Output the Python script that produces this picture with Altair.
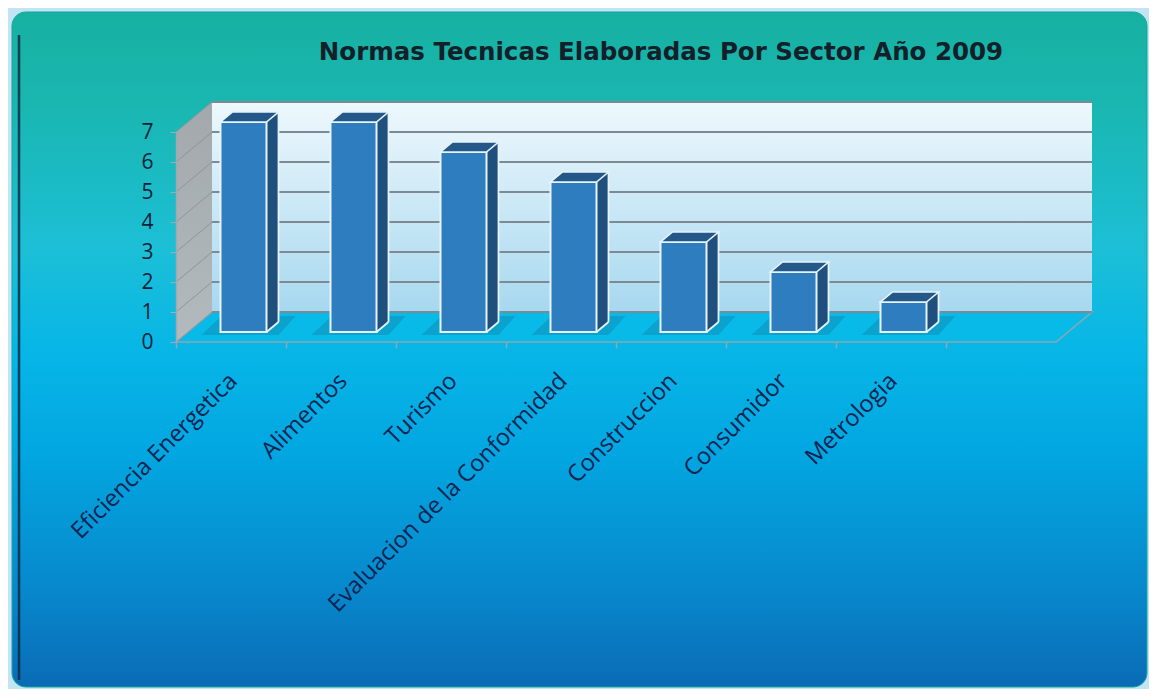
import altair as alt
import pandas as pd

# ---------------- data ----------------
categories = ["Eficiencia Energetica", "Alimentos", "Turismo",
              "Evaluacion de la Conformidad", "Construccion", "Consumidor", "Metrologia"]
values = [7, 7, 6, 5, 3, 2, 1]
y_ticks = [0, 1, 2, 3, 4, 5, 6, 7]
title_text = "Normas Tecnicas Elaboradas Por Sector Año 2009"

# ---------------- layout (pixels) ----------------
W, H = 880, 210
NSLOT = len(categories) + 1
BAND = W / NSLOT
DX, DY = 36, 30            # depth of walls
BAR_W = 46
BAR_DX = 12.5              # bar front face shift from band centre
LIFT = 10                  # bar front base above front floor edge
SX, SY = 12, 10            # bar depth

bars = pd.DataFrame({"sector": categories, "value": values})
ticks = pd.DataFrame({"t": y_ticks})
wall_df = pd.DataFrame({"lo": [y_ticks[0]], "hi": [y_ticks[-1]]})
zero_df = pd.DataFrame({"t": [y_ticks[0]]})
one = alt.Data(values=[{"k": 0}])

x_domain = categories + [" "]
xscale = alt.Scale(domain=x_domain, paddingInner=0, paddingOuter=0)
yscale = alt.Scale(domain=[y_ticks[0], y_ticks[-1]], nice=False, zero=True)

FONT = "Open Sans"

AX_X = alt.Axis(
    title=None, labelAngle=-45, labelAlign="right", labelBaseline="middle",
    labelFont=FONT, labelFontSize=23.5, labelColor="#0d2350", labelPadding=29,
    labelOffset=BAND / 2 + 2, tickOffset=-BAND / 2, tickSize=6, tickColor="#8ea7b3",
    tickWidth=1.5, domain=False, zindex=1, labelOverlap=False, labelLimit=500)
AX_Y = alt.Axis(
    title=None, values=y_ticks, grid=False, labelFont=FONT, labelFontSize=21,
    labelColor="#0b1f3a", labelPadding=17, tickSize=6, tickColor="#a3aaae",
    domainColor="#a3aaae", domainWidth=1.5, zindex=1, labelOverlap=False)


def grad(stops, horizontal=False):
    return alt.LinearGradient(
        gradient="linear", x1=0, y1=0,
        x2=1 if horizontal else 0, y2=0 if horizontal else 1,
        stops=[alt.GradientStop(color=c, offset=o) for o, c in stops])


panel_grad = grad([(0, "#17b1a1"), (0.15, "#1ab7b3"), (0.35, "#1cbfd6"),
                   (0.5, "#07b6e7"), (0.65, "#02a7e1"), (0.85, "#0789cd"), (1, "#0a6bb5")])
wall_grad = grad([(0, "#eef8fd"), (1, "#a7d8ef")])
side_grad = grad([(0, "#a2a8ac"), (1, "#b3babe")])

# ---------------- decoration ----------------
panel = alt.Chart(one).mark_rect(fill=panel_grad, cornerRadius=14, stroke="#14a79a",
                                 strokeWidth=1).encode(
    x=alt.value(-164), x2=alt.value(971), y=alt.value(-120), y2=alt.value(555))

panel_edge = alt.Chart(one).mark_rule(color="#0c2c44", strokeWidth=2.5, opacity=0.85).encode(
    x=alt.value(-157), y=alt.value(-97), y2=alt.value(548))

Yz = alt.Y("t:Q", scale=yscale, axis=AX_Y)

floor_path = f"M0,0L{W},0L{W + DX},{-DY}L{DX},{-DY}Z"
floor = alt.Chart(zero_df).mark_point(
    shape=floor_path, size=4, filled=True, fill="#07bae7", stroke="#8ea7b3",
    strokeWidth=1.5, opacity=1).encode(x=alt.value(0), y=Yz)

side_path = f"M0,0L{DX},{-DY}L{DX},{-DY - H}L0,{-H}Z"
side_wall = alt.Chart(zero_df).mark_point(
    shape=side_path, size=4, filled=True, fill=side_grad, strokeWidth=0,
    opacity=1).encode(x=alt.value(0), y=Yz)

back_wall = alt.Chart(wall_df).mark_rect(fill=wall_grad, yOffset=-DY, y2Offset=-DY).encode(
    x=alt.value(DX), x2=alt.value(W + DX),
    y=alt.Y("lo:Q", scale=yscale, axis=AX_Y), y2="hi:Q")

wall_grid = alt.Chart(ticks).mark_rule(color="#7d8993", strokeWidth=2, yOffset=-DY).encode(
    x=alt.value(DX), x2=alt.value(W + DX), y=Yz)

side_grid = alt.Chart(ticks).mark_rule(color="#8f969b", strokeWidth=1, y2Offset=-DY).encode(
    x=alt.value(0), x2=alt.value(DX), y=Yz, y2="t:Q")

# ---------------- bars ----------------
base = alt.Chart(bars)
Xn = alt.X("sector:N", scale=xscale, axis=AX_X)
Yv = alt.Y("value:Q", scale=yscale, axis=AX_Y)
Yb = alt.Y("b:Q", scale=yscale, axis=AX_Y)

R = BAR_DX + BAR_W / 2     # right edge of front face, from band centre

shadow_path = "M-42,3L35,3L52,-16L-22,-16Z"
shadow = base.transform_calculate(b="0").mark_point(
    shape=shadow_path, size=4, filled=True, fill="#1580aa", opacity=0.4, strokeWidth=0,
    xOffset=BAR_DX, yOffset=-LIFT).encode(x=Xn, y=Yb)

side = base.mark_bar(width=SX, xOffset=R + SX / 2, yOffset=-LIFT - SY, y2Offset=-LIFT - SY,
                     color="#1f4f7c", strokeWidth=0).encode(x=Xn, y=Yv)

side_tri = base.transform_calculate(b="0").mark_point(
    shape=f"M0,0L0,{-SY}L{SX},{-SY}Z", size=4, filled=True, fill="#1f4f7c",
    strokeWidth=0, opacity=1, xOffset=R, yOffset=-LIFT).encode(x=Xn, y=Yb)

side_diag = base.transform_calculate(b="0").mark_point(
    shape=f"M0,0L{SX},{-SY}", size=4, filled=False, stroke="#e6f3fb", strokeWidth=1.8,
    opacity=1, xOffset=R, yOffset=-LIFT).encode(x=Xn, y=Yb)

side_edge = base.transform_calculate(b="0").mark_rule(
    color="#e6f3fb", strokeWidth=1.8, xOffset=R + SX,
    yOffset=-LIFT - SY, y2Offset=-LIFT - SY).encode(x=Xn, y=Yv, y2="b:Q")

front = base.mark_bar(width=BAR_W, xOffset=BAR_DX, yOffset=-LIFT, y2Offset=-LIFT,
                      color="#2e7dbe", stroke="#e6f3fb", strokeWidth=2).encode(x=Xn, y=Yv)

top_path = (f"M{-BAR_W / 2},0L{BAR_W / 2},0L{BAR_W / 2 + SX},{-SY}"
            f"L{-BAR_W / 2 + SX},{-SY}Z")
top = base.mark_point(shape=top_path, size=4, filled=True, fill="#235889", stroke="#e6f3fb",
                      strokeWidth=1.6, opacity=1, xOffset=BAR_DX, yOffset=-LIFT).encode(
    x=Xn, y=Yv)

title = alt.Chart(one).mark_text(
    text=title_text, font="DejaVu Sans", fontSize=24.5, fontWeight="bold", color="#13202a",
    align="center", baseline="alphabetic").encode(x=alt.value(485), y=alt.value(-72))

chart = alt.layer(
    panel, panel_edge, floor, side_wall, back_wall, wall_grid, side_grid,
    shadow, side, side_tri, side_diag, side_edge, front, top, title
).properties(
    width=W, height=H,
    padding={"left": 168, "top": 124, "right": 93, "bottom": 347},
    autosize=alt.AutoSizeParams(type="none"),
    background="#c2e4f5",
).configure_view(strokeWidth=0).configure_axis(
    labelFont=FONT, labelLimit=500
)

chart.save("out.html", embed_options={"renderer": "svg", "actions": False})
